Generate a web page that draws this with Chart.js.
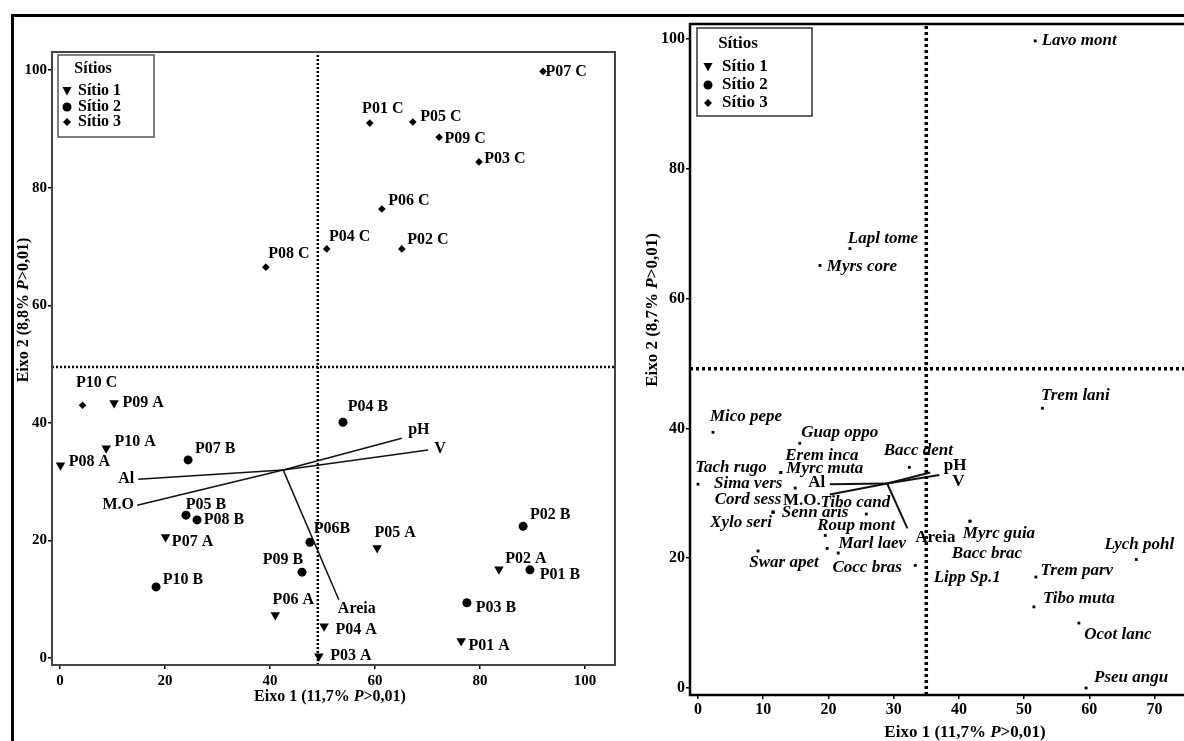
<!DOCTYPE html>
<html>
<head>
<meta charset="utf-8">
<script src="https://cdn.jsdelivr.net/npm/chart.js@4.4.0/dist/chart.umd.min.js"></script>
<style>
    html, body { margin: 0; padding: 0; background: #fff; overflow: hidden; width: 1184px; height: 741px; }
    #frame { position: absolute; left: 11px; top: 14px; width: 1200px; height: 800px; border-top: 3px solid #000; border-left: 3px solid #000; }
    #left { position: absolute; left: 0; top: 0; }
    #right { position: absolute; left: 640px; top: 0; }
</style>
</head>
<body>
<div id="frame"></div>
<canvas id="left" width="640" height="741" style="width:640px;height:741px"></canvas>
<canvas id="right" width="560" height="741" style="width:560px;height:741px"></canvas>
<script>
// --- Painel esquerdo: parcelas ---
const sitio1Labels = ['P01 A', 'P02 A', 'P03 A', 'P04 A', 'P05 A', 'P06 A', 'P07 A', 'P08 A', 'P09 A', 'P10 A'];
const sitio1X = [76.4, 83.6, 49.3, 50.3, 60.4, 41.0, 20.1, 0.1, 10.3, 8.8];
const sitio1Y = [2.9, 15.1, 0.3, 5.4, 18.7, 7.3, 20.6, 32.8, 43.4, 35.7];

const sitio2Labels = ['P01 B', 'P02 B', 'P03 B', 'P04 B', 'P05 B', 'P06B', 'P07 B', 'P08 B', 'P09 B', 'P10 B'];
const sitio2X = [89.5, 88.2, 77.5, 53.9, 24.0, 47.6, 24.4, 26.1, 46.1, 18.3];
const sitio2Y = [15.0, 22.4, 9.4, 40.1, 24.3, 19.7, 33.7, 23.5, 14.6, 12.1];

const sitio3Labels = ['P01 C', 'P02 C', 'P03 C', 'P04 C', 'P05 C', 'P06 C', 'P07 C', 'P08 C', 'P09 C', 'P10 C'];
const sitio3X = [59.0, 65.1, 79.8, 50.8, 67.2, 61.3, 92.0, 39.2, 72.2, 4.3];
const sitio3Y = [91.0, 69.6, 84.4, 69.6, 91.2, 76.4, 99.8, 66.5, 88.6, 43.0];

// vetores ambientais
const envNames = ['Al', 'M.O', 'pH', 'V', 'Areia'];
const envLeftOrigin = [42.5, 32.0];
const envLeftX = [14.9, 14.7, 65.1, 70.1, 53.1];
const envLeftY = [30.4, 26.0, 37.4, 35.4, 9.9];
const leftRefX = 49.1;
const leftRefY = 49.5;

// --- Painel direito: espécies ---
const speciesNames = ['Lavo mont', 'Lapl tome', 'Myrs core', 'Mico pepe', 'Guap oppo', 'Erem inca', 'Myrc muta',
    'Tach rugo', 'Sima vers', 'Cord sess', 'Senn aris', 'Xylo seri', 'Tibo cand', 'Roup mont', 'Marl laev',
    'Cocc bras', 'Swar apet', 'Bacc dent', 'Lipp Sp.1', 'Myrc guia', 'Bacc brac', 'Lych pohl', 'Trem lani',
    'Trem parv', 'Tibo muta', 'Ocot lanc', 'Pseu angu'];
const speciesX = [51.7, 23.3, 18.7, 2.3, 15.6, 12.7, 12.7, 0.0, 14.9, 11.5, 11.5, 11.5, 25.8, 19.5, 21.5,
    19.8, 9.2, 32.4, 33.3, 41.7, 41.7, 67.2, 52.8, 51.8, 51.5, 58.4, 59.5];
const speciesY = [99.7, 67.7, 65.1, 39.4, 37.7, 33.2, 33.2, 31.4, 30.8, 27.1, 27.1, 27.1, 26.8, 23.5, 20.8,
    21.5, 21.1, 34.0, 18.9, 25.7, 25.7, 19.8, 43.1, 17.1, 12.5, 10.0, 0.0];

const envRightNames = ['Al', 'M.O.', 'pH', 'V', 'Areia'];
const envRightOrigin = [29.0, 31.5];
const envRightX = [20.2, 20.2, 35.6, 37.0, 32.1];
const envRightY = [31.4, 29.8, 33.2, 32.8, 24.6];
const rightRefX = 35.0;
const rightRefY = 49.2;

// eixos
const leftXTicks = [0, 20, 40, 60, 80, 100];
const leftYTicks = [0, 20, 40, 60, 80, 100];
const rightXTicks = [0, 10, 20, 30, 40, 50, 60, 70];
const rightYTicks = [0, 20, 40, 60, 80, 100];
const leftRange = { xMin: -1.52, xMax: 105.7, yMin: -1.19, yMax: 103.1 };
const rightRange = { xMin: -1.23, xMax: 76.2, yMin: -1.08, yMax: 102.3 };

// deslocamentos dos rótulos (px)
const leftOffsets = {
    'P07 C': [23, 0], 'P01 C': [13, -14], 'P05 C': [28, -5], 'P09 C': [26, 2], 'P03 C': [26, -3],
    'P06 C': [27, -8], 'P04 C': [23, -12], 'P02 C': [26, -9], 'P08 C': [23, -13], 'P10 C': [14, -22],
    'P09 A': [29, 0], 'P10 A': [29, -6], 'P08 A': [29, -3], 'P07 A': [27, 5], 'P06 A': [18, -15],
    'P04 A': [32, 4], 'P03 A': [32, 0], 'P05 A': [18, -15], 'P02 A': [27, -10], 'P01 A': [28, 5],
    'P07 B': [27, -11], 'P05 B': [20, -10], 'P08 B': [27, 0], 'P10 B': [27, -7], 'P09 B': [-19, -12],
    'P06B': [22, -13], 'P04 B': [25, -15], 'P02 B': [27, -11], 'P01 B': [30, 5], 'P03 B': [29, 5],
    'Al': [-12, 0], 'M.O': [-19, 0], 'pH': [17, -8], 'V': [12, -1], 'Areia': [18, 9]
};
const rightOffsets = {
    'Lavo mont': [44, 0], 'Lapl tome': [33, -10], 'Myrs core': [42, 1], 'Mico pepe': [33, -16],
    'Guap oppo': [40, -11], 'Erem inca': [41, -17], 'Myrc muta': [44, -4], 'Tach rugo': [33, -17],
    'Sima vers': [-47, -4], 'Cord sess': [-25, -12], 'Senn aris': [42, 1], 'Xylo seri': [-32, 11],
    'Tibo cand': [-11, -11], 'Roup mont': [31, -10], 'Marl laev': [34, -9], 'Cocc bras': [40, 19],
    'Swar apet': [26, 12], 'Bacc dent': [9, -17], 'Lipp Sp.1': [52, 12], 'Myrc guia': [29, 12],
    'Bacc brac': [17, 32], 'Lych pohl': [3, -15], 'Trem lani': [33, -13], 'Trem parv': [41, -6],
    'Tibo muta': [45, -8], 'Ocot lanc': [39, 12], 'Pseu angu': [45, -10],
    'Al': [-13, -2], 'M.O.': [-28, 6], 'pH': [25, -7], 'V': [19, 7], 'Areia': [28, 9]
};

const SERIF = '"Liberation Serif", "Times New Roman", serif';

function points(xs, ys) {
    return xs.map((x, i) => ({ x: x, y: ys[i] }));
}

// rótulos junto aos pontos
const labelPlugin = {
    id: 'pointLabels',
    afterDatasetsDraw(chart) {
        const ctx = chart.ctx;
        chart.data.datasets.forEach((ds, di) => {
            if (!ds.pointLabels) return;
            const meta = chart.getDatasetMeta(di);
            ctx.save();
            ctx.font = ds.labelFont;
            ctx.fillStyle = '#000';
            ctx.textAlign = 'center';
            ctx.textBaseline = 'middle';
            ds.pointLabels.forEach((txt, i) => {
                if (!txt) return;
                const el = meta.data[i];
                const off = ds.offsets[txt] || [20, 0];
                ctx.fillText(txt, el.x + off[0], el.y + off[1]);
            });
            ctx.restore();
        });
    }
};

// moldura da área do gráfico
const framePlugin = {
    id: 'plotFrame',
    afterDatasetsDraw(chart, args, opts) {
        const a = chart.chartArea;
        const ctx = chart.ctx;
        ctx.save();
        ctx.strokeStyle = opts.color;
        ctx.lineWidth = opts.width;
        ctx.strokeRect(a.left, a.top, a.right - a.left, a.bottom - a.top);
        ctx.restore();
    }
};

// legenda "Sítios"
const sitiosLegend = {
    id: 'sitiosLegend',
    afterDraw(chart, args, o) {
        const a = chart.chartArea;
        const ctx = chart.ctx;
        const bx = a.left + o.box[0], by = a.top + o.box[1];
        ctx.save();
        ctx.fillStyle = '#fff';
        ctx.fillRect(bx, by, o.box[2], o.box[3]);
        ctx.strokeStyle = o.border;
        ctx.lineWidth = 1.5;
        ctx.strokeRect(bx, by, o.box[2], o.box[3]);
        ctx.fillStyle = '#000';
        ctx.font = 'bold ' + o.size + 'px ' + SERIF;
        ctx.textBaseline = 'middle';
        ctx.textAlign = 'center';
        ctx.fillText('Sítios', a.left + o.title[0], a.top + o.title[1]);
        ctx.textAlign = 'left';
        const items = ['Sítio 1', 'Sítio 2', 'Sítio 3'];
        items.forEach((t, i) => {
            const mx = a.left + o.marker, my = a.top + o.rows[i];
            ctx.beginPath();
            if (i === 0) {
                ctx.moveTo(mx - 4.5, my - 4); ctx.lineTo(mx + 4.5, my - 4); ctx.lineTo(mx, my + 4.5);
            } else if (i === 1) {
                ctx.arc(mx, my, 4.5, 0, Math.PI * 2);
            } else {
                ctx.moveTo(mx, my - 4); ctx.lineTo(mx + 4, my); ctx.lineTo(mx, my + 4); ctx.lineTo(mx - 4, my);
            }
            ctx.closePath();
            ctx.fill();
            ctx.fillText(t, a.left + o.text, my);
        });
        ctx.restore();
    }
};

// títulos dos eixos com P em itálico
function drawMixed(ctx, parts, cx, cy, size) {
    const fonts = parts.map(p => (p[1] ? 'italic bold ' : 'bold ') + size + 'px ' + SERIF);
    let w = 0;
    const ws = parts.map((p, i) => { ctx.font = fonts[i]; const m = ctx.measureText(p[0]).width; w += m; return m; });
    let x = cx - w / 2;
    parts.forEach((p, i) => {
        ctx.font = fonts[i];
        ctx.fillText(p[0], x, cy);
        x += ws[i];
    });
}
const axisTitles = {
    id: 'axisTitles',
    afterDraw(chart, args, o) {
        const ctx = chart.ctx;
        ctx.save();
        ctx.fillStyle = '#000';
        ctx.textAlign = 'left';
        ctx.textBaseline = 'middle';
        drawMixed(ctx, o.xText, o.xPos[0], o.xPos[1], o.size);
        ctx.translate(o.yPos[0], o.yPos[1]);
        ctx.rotate(-Math.PI / 2);
        drawMixed(ctx, o.yText, 0, 0, o.size);
        ctx.restore();
    }
};

function scaleOpts(min, max, ticks, fit, fontSize, pad) {
    return {
        type: 'linear',
        min: min,
        max: max,
        afterBuildTicks: s => { s.ticks = ticks.map(v => ({ value: v })); },
        afterFit: fit,
        grid: { drawOnChartArea: false, drawTicks: true, tickLength: 4, color: '#000', lineWidth: 1.5 },
        border: { display: false },
        ticks: {
            color: '#000',
            autoSkip: false,
            maxRotation: 0,
            padding: pad,
            font: { family: SERIF, weight: 'bold', size: fontSize }
        }
    };
}

function refLines(rx, ry, range, width, dash) {
    const base = { showLine: true, pointRadius: 0, borderColor: '#000', borderWidth: width, borderDash: dash, borderCapStyle: 'butt' };
    return [
        Object.assign({ data: [{ x: rx, y: range.yMin }, { x: rx, y: range.yMax }] }, base),
        Object.assign({ data: [{ x: range.xMin, y: ry }, { x: range.xMax, y: ry }] }, base)
    ];
}

function envLines(names, origin, xs, ys, width, font, offsets) {
    return names.map((n, i) => ({
        data: [{ x: origin[0], y: origin[1] }, { x: xs[i], y: ys[i] }],
        showLine: true,
        pointRadius: 0,
        borderColor: '#111',
        borderWidth: width,
        pointLabels: [null, n],
        labelFont: font,
        offsets: offsets
    }));
}

// ---------- gráfico esquerdo ----------
const leftFont = 'bold 16px ' + SERIF;
new Chart(document.getElementById('left'), {
    type: 'scatter',
    data: {
        datasets: [
            ...refLines(leftRefX, leftRefY, leftRange, 2.5, [2, 2]),
            ...envLines(envNames, envLeftOrigin, envLeftX, envLeftY, 1.5, leftFont, leftOffsets),
            {
                label: 'Sítio 1', data: points(sitio1X, sitio1Y), pointStyle: 'triangle', rotation: 180,
                pointRadius: 5.5, backgroundColor: '#000', borderColor: '#000', borderWidth: 0,
                pointLabels: sitio1Labels, labelFont: leftFont, offsets: leftOffsets
            },
            {
                label: 'Sítio 2', data: points(sitio2X, sitio2Y), pointStyle: 'circle',
                pointRadius: 4.5, backgroundColor: '#000', borderColor: '#000', borderWidth: 0,
                pointLabels: sitio2Labels, labelFont: leftFont, offsets: leftOffsets
            },
            {
                label: 'Sítio 3', data: points(sitio3X, sitio3Y), pointStyle: 'rectRot',
                pointRadius: 3.8, backgroundColor: '#000', borderColor: '#000', borderWidth: 0,
                pointLabels: sitio3Labels, labelFont: leftFont, offsets: leftOffsets
            }
        ]
    },
    options: {
        responsive: false,
        animation: false,
        layout: { padding: { top: 52, right: 25, left: 0, bottom: 0 } },
        scales: {
            x: scaleOpts(leftRange.xMin, leftRange.xMax, leftXTicks, s => { s.height = 76; }, 15, 3),
            y: scaleOpts(leftRange.yMin, leftRange.yMax, leftYTicks, s => { s.width = 52; }, 15, 1)
        },
        plugins: {
            legend: { display: false },
            tooltip: { enabled: false },
            plotFrame: { color: '#444', width: 2 },
            sitiosLegend: { box: [6, 3, 96, 82], border: '#555', size: 16, title: [41, 17], marker: 15, text: 26, rows: [39, 55, 70] },
            axisTitles: {
                size: 16,
                xText: [['Eixo 1 (11,7% ', false], ['P', true], ['>0,01)', false]],
                yText: [['Eixo 2 (8,8% ', false], ['P', true], ['>0,01)', false]],
                xPos: [330, 697],
                yPos: [24, 310]
            }
        }
    },
    plugins: [framePlugin, labelPlugin, sitiosLegend, axisTitles]
});

// ---------- gráfico direito ----------
const speciesFont = 'italic bold 17px ' + SERIF;
const rightEnvFont = 'bold 17px ' + SERIF;
new Chart(document.getElementById('right'), {
    type: 'scatter',
    data: {
        datasets: [
            ...refLines(rightRefX, rightRefY, rightRange, 3.5, [3, 3]),
            ...envLines(envRightNames, envRightOrigin, envRightX, envRightY, 2, rightEnvFont, rightOffsets),
            {
                label: 'Espécies', data: points(speciesX, speciesY), pointStyle: 'rect',
                pointRadius: 2, backgroundColor: '#000', borderColor: '#000', borderWidth: 0,
                pointLabels: speciesNames, labelFont: speciesFont, offsets: rightOffsets
            }
        ]
    },
    options: {
        responsive: false,
        animation: false,
        layout: { padding: { top: 24, right: 5, left: 0, bottom: 0 } },
        scales: {
            x: scaleOpts(rightRange.xMin, rightRange.xMax, rightXTicks, s => { s.height = 46; }, 16, 1),
            y: scaleOpts(rightRange.yMin, rightRange.yMax, rightYTicks, s => { s.width = 50; }, 16, 1)
        },
        plugins: {
            legend: { display: false },
            tooltip: { enabled: false },
            plotFrame: { color: '#000', width: 2.5 },
            sitiosLegend: { box: [7, 4, 115, 88], border: '#333', size: 17, title: [48, 20], marker: 18, text: 32, rows: [43, 61, 79] },
            axisTitles: {
                size: 17,
                xText: [['Eixo 1 (11,7% ', false], ['P', true], ['>0,01)', false]],
                yText: [['Eixo 2 (8,7% ', false], ['P', true], ['>0,01)', false]],
                xPos: [325, 733],
                yPos: [13, 310]
            }
        }
    },
    plugins: [framePlugin, labelPlugin, sitiosLegend, axisTitles]
});
</script>
</body>
</html>
